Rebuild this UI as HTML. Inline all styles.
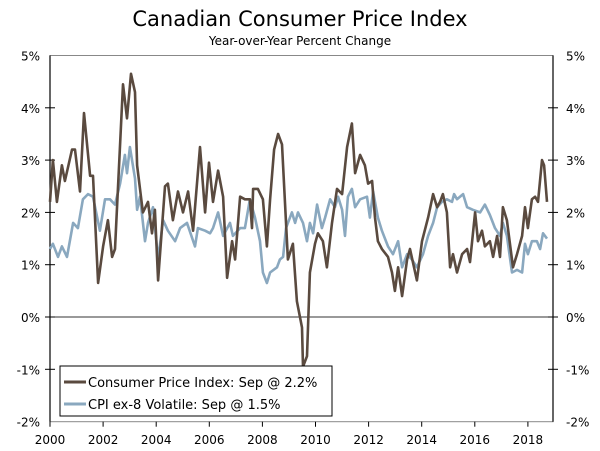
<!DOCTYPE html>
<html><head><meta charset="utf-8"><style>
body{margin:0;background:#fff;}
svg{display:block;font-family:"DejaVu Sans","Liberation Sans",sans-serif;}
</style></head><body>
<svg id="chart" width="600" height="451" viewBox="0 0 600 451">
<text x="300" y="26" text-anchor="middle" font-size="21" fill="#000">Canadian Consumer Price Index</text>
<text x="300" y="45" text-anchor="middle" font-size="12" fill="#000">Year-over-Year Percent Change</text>
<g id="axes"></g>
<g id="series"></g>
<g>
<rect x="60" y="366" width="272" height="50" fill="#fff" stroke="#000" stroke-width="1"/>
<line x1="64" y1="382" x2="86" y2="382" stroke="#5a4a3f" stroke-width="3"/>
<text x="88" y="387" font-size="13">Consumer Price Index: Sep @ 2.2%</text>
<line x1="64" y1="404" x2="86" y2="404" stroke="#8aa8bf" stroke-width="3"/>
<text x="88" y="409" font-size="13">CPI ex-8 Volatile: Sep @ 1.5%</text>
</g>
</svg>
<script>
const cpiDates=[2000.0,2000.11,2000.26,2000.45,2000.56,2000.83,2000.94,2001.13,2001.28,2001.51,2001.62,2001.81,2002.0,2002.18,2002.34,2002.45,2002.75,2002.9,2003.05,2003.2,2003.28,2003.5,2003.69,2003.84,2003.95,2004.07,2004.33,2004.44,2004.63,2004.82,2005.01,2005.2,2005.39,2005.65,2005.84,2005.99,2006.14,2006.33,2006.52,2006.67,2006.86,2006.97,2007.16,2007.34,2007.53,2007.61,2007.65,2007.83,2008.02,2008.17,2008.29,2008.44,2008.59,2008.74,2008.96,2009.15,2009.3,2009.49,2009.53,2009.68,2009.79,2009.98,2010.09,2010.28,2010.43,2010.62,2010.81,2011.0,2011.19,2011.37,2011.49,2011.68,2011.86,2011.98,2012.13,2012.24,2012.35,2012.5,2012.73,2012.88,2012.99,2013.11,2013.26,2013.45,2013.56,2013.82,2014.01,2014.24,2014.43,2014.58,2014.69,2014.8,2014.95,2015.07,2015.18,2015.33,2015.52,2015.71,2015.82,2016.01,2016.12,2016.27,2016.38,2016.57,2016.69,2016.84,2016.95,2017.06,2017.21,2017.44,2017.59,2017.78,2017.89,2018.0,2018.15,2018.27,2018.38,2018.53,2018.61,2018.72];
const cpiValues=[2.2,3.0,2.2,2.9,2.6,3.2,3.2,2.4,3.9,2.7,2.7,0.65,1.35,1.85,1.15,1.3,4.45,3.8,4.65,4.3,2.9,2.0,2.2,1.6,2.05,0.7,2.5,2.55,1.85,2.4,2.0,2.4,1.65,3.25,2.0,2.95,2.2,2.8,2.3,0.75,1.45,1.1,2.3,2.25,2.25,1.7,2.45,2.45,2.25,1.35,2.25,3.2,3.5,3.3,1.1,1.4,0.3,-0.2,-0.95,-0.75,0.85,1.4,1.6,1.45,0.95,1.8,2.45,2.35,3.25,3.7,2.75,3.1,2.9,2.55,2.6,1.9,1.45,1.3,1.15,0.85,0.5,0.95,0.4,1.1,1.3,0.7,1.45,1.9,2.35,2.1,2.2,2.35,2.0,0.95,1.2,0.85,1.2,1.3,1.05,2.0,1.45,1.65,1.35,1.45,1.15,1.55,1.15,2.1,1.85,0.95,1.2,1.55,2.1,1.7,2.25,2.3,2.2,3.0,2.9,2.2];
const coreDates=[2000.0,2000.11,2000.3,2000.45,2000.64,2000.87,2001.05,2001.24,2001.43,2001.62,2001.88,2002.07,2002.26,2002.45,2002.64,2002.82,2002.9,2003.01,2003.2,2003.28,2003.39,2003.58,2003.69,2003.88,2004.07,2004.26,2004.44,2004.71,2004.9,2005.16,2005.46,2005.57,2005.84,2006.03,2006.14,2006.33,2006.52,2006.78,2006.89,2007.16,2007.34,2007.53,2007.72,2007.91,2008.02,2008.17,2008.29,2008.55,2008.66,2008.78,2008.89,2009.11,2009.23,2009.34,2009.53,2009.68,2009.79,2009.91,2010.06,2010.24,2010.36,2010.55,2010.73,2010.85,2011.0,2011.11,2011.22,2011.37,2011.49,2011.68,2011.94,2012.05,2012.17,2012.35,2012.5,2012.73,2012.92,2013.11,2013.26,2013.45,2013.63,2013.82,2014.05,2014.24,2014.43,2014.58,2014.76,2014.95,2015.14,2015.22,2015.33,2015.56,2015.71,2015.93,2016.2,2016.38,2016.57,2016.76,2016.95,2017.06,2017.21,2017.4,2017.59,2017.78,2017.89,2018.0,2018.15,2018.34,2018.46,2018.57,2018.72];
const coreValues=[1.3,1.4,1.15,1.35,1.15,1.8,1.7,2.25,2.35,2.3,1.65,2.25,2.25,2.15,2.55,3.1,2.75,3.25,2.65,2.05,2.3,1.45,1.8,2.1,1.1,1.85,1.65,1.45,1.7,1.8,1.35,1.7,1.65,1.6,1.7,2.0,1.55,1.8,1.55,1.7,1.7,2.25,1.9,1.45,0.85,0.65,0.85,0.95,1.1,1.15,1.7,2.0,1.8,2.0,1.8,1.45,1.8,1.6,2.15,1.7,1.9,2.25,2.1,2.3,2.05,1.55,2.3,2.45,2.1,2.25,2.3,1.9,2.4,1.9,1.65,1.35,1.2,1.45,0.95,1.2,1.1,0.95,1.2,1.55,1.8,2.1,2.2,2.25,2.2,2.35,2.25,2.35,2.1,2.05,2.0,2.15,1.95,1.7,1.55,1.8,1.55,0.85,0.9,0.85,1.4,1.2,1.45,1.45,1.3,1.6,1.5];
const yTicks=[5,4,3,2,1,0,-1,-2];
const yTickLabels=["5%","4%","3%","2%","1%","0%","-1%","-2%"];
const xTicks=[2000,2002,2004,2006,2008,2010,2012,2014,2016,2018];
const xTickLabels=["2000","2002","2004","2006","2008","2010","2012","2014","2016","2018"];

const X0=50,X1=553,Y0=55.5,Y1=421.7;
const xScale=y=>X0+(y-2000)*26.55;
const yScale=v=>317-v*52.3;
const NS="http://www.w3.org/2000/svg";
function mk(tag,attrs,parent){const e=document.createElementNS(NS,tag);for(const k in attrs)e.setAttribute(k,attrs[k]);parent.appendChild(e);return e;}
const axes=document.getElementById('axes');
let f=mk('rect',{x:X0,y:Y0,width:X1-X0,height:Y1-Y0,fill:'none',stroke:'#888','stroke-width':1},axes);


let la=mk('line',{x1:X0,y1:Y0,x2:X0,y2:Y1,stroke:'#000','stroke-width':1.2},axes);


let ra=mk('line',{x1:X1,y1:Y0,x2:X1,y2:Y1,stroke:'#000','stroke-width':1.2},axes);


let zl=mk('line',{x1:X0,y1:yScale(0),x2:X1,y2:yScale(0),stroke:'#333','stroke-width':1},axes);


yTicks.forEach((t,i)=>{
  const y=yScale(t);
  if(t!==5&&t!==-2){
    let a=mk('line',{x1:X0-5,y1:y,x2:X0+5,y2:y,stroke:'#000'},axes);
    
    
    let b=mk('line',{x1:X1-5,y1:y,x2:X1+5,y2:y,stroke:'#000'},axes);
    
    
  }
  let l=mk('text',{x:40,y:y+5,'text-anchor':'end','font-size':12},axes);l.textContent=yTickLabels[i];
  
  
  let r=mk('text',{x:566,y:y+5,'text-anchor':'start','font-size':12},axes);r.textContent=yTickLabels[i];
  
  
});
xTicks.forEach((t,i)=>{
  const x=xScale(t);
  let tk=mk('line',{x1:x,y1:Y1,x2:x,y2:Y1+5,stroke:'#000'},axes);
  
  
  let l=mk('text',{x:x,y:444,'text-anchor':'middle','font-size':12},axes);l.textContent=xTickLabels[i];
  
  
});
const ser=document.getElementById('series');
function line(d,v,color,name){
  const pts=d.map((t,i)=>xScale(t).toFixed(1)+','+yScale(v[i]).toFixed(1)).join(' ');
  const p=mk('polyline',{points:pts,fill:'none',stroke:color,'stroke-width':2.6,'stroke-linejoin':'round'},ser);
  
  
}
line(coreDates,coreValues,'#8aa8bf','core-cpi-line');
line(cpiDates,cpiValues,'#5a4a3f','cpi-line');
</script>
</body></html>
